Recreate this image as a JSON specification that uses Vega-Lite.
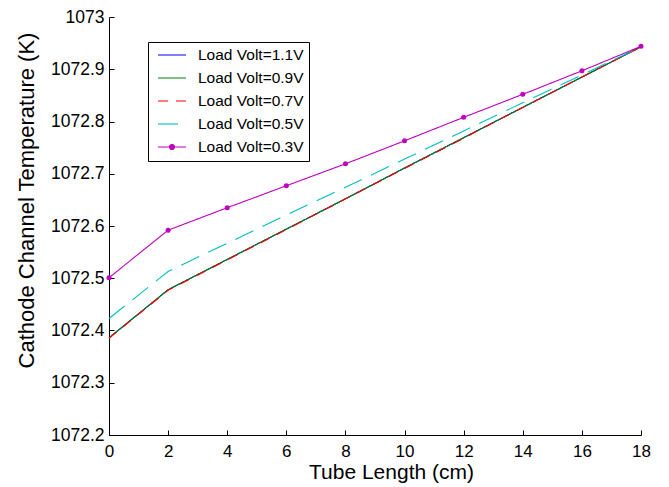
{
  "$schema": "https://vega.github.io/schema/vega-lite/v6.json",
  "width": 532,
  "height": 418,
  "autosize": {"type": "none"},
  "padding": {"left": 109, "top": 17, "right": 28, "bottom": 52},
  "background": "white",
  "config": {
    "view": {"stroke": null},
    "font": "Liberation Sans",
    "axis": {
      "grid": false,
      "domainColor": "#000000",
      "tickColor": "#000000",
      "labelColor": "#000000",
      "titleColor": "#000000",
      "labelFont": "Liberation Sans",
      "titleFont": "Liberation Sans",
      "labelFontSize": 17,
      "titleFontSize": 21,
      "titleFontWeight": "normal",
      "tickSize": -5,
      "domainWidth": 1,
      "tickWidth": 1
    }
  },
  "data": {
    "values": [
      {"x": 0, "T": 1072.386, "series": "Load Volt=1.1V"},
      {"x": 2, "T": 1072.478, "series": "Load Volt=1.1V"},
      {"x": 4, "T": 1072.536, "series": "Load Volt=1.1V"},
      {"x": 6, "T": 1072.594, "series": "Load Volt=1.1V"},
      {"x": 8, "T": 1072.652, "series": "Load Volt=1.1V"},
      {"x": 10, "T": 1072.711, "series": "Load Volt=1.1V"},
      {"x": 12, "T": 1072.769, "series": "Load Volt=1.1V"},
      {"x": 14, "T": 1072.827, "series": "Load Volt=1.1V"},
      {"x": 16, "T": 1072.885, "series": "Load Volt=1.1V"},
      {"x": 18, "T": 1072.943, "series": "Load Volt=1.1V"},
      {"x": 0, "T": 1072.386, "series": "Load Volt=0.9V"},
      {"x": 2, "T": 1072.478, "series": "Load Volt=0.9V"},
      {"x": 4, "T": 1072.536, "series": "Load Volt=0.9V"},
      {"x": 6, "T": 1072.594, "series": "Load Volt=0.9V"},
      {"x": 8, "T": 1072.652, "series": "Load Volt=0.9V"},
      {"x": 10, "T": 1072.711, "series": "Load Volt=0.9V"},
      {"x": 12, "T": 1072.769, "series": "Load Volt=0.9V"},
      {"x": 14, "T": 1072.827, "series": "Load Volt=0.9V"},
      {"x": 16, "T": 1072.885, "series": "Load Volt=0.9V"},
      {"x": 18, "T": 1072.943, "series": "Load Volt=0.9V"},
      {"x": 0, "T": 1072.385, "series": "Load Volt=0.7V"},
      {"x": 2, "T": 1072.477, "series": "Load Volt=0.7V"},
      {"x": 4, "T": 1072.535, "series": "Load Volt=0.7V"},
      {"x": 6, "T": 1072.593, "series": "Load Volt=0.7V"},
      {"x": 8, "T": 1072.652, "series": "Load Volt=0.7V"},
      {"x": 10, "T": 1072.710, "series": "Load Volt=0.7V"},
      {"x": 12, "T": 1072.768, "series": "Load Volt=0.7V"},
      {"x": 14, "T": 1072.827, "series": "Load Volt=0.7V"},
      {"x": 16, "T": 1072.885, "series": "Load Volt=0.7V"},
      {"x": 18, "T": 1072.943, "series": "Load Volt=0.7V"},
      {"x": 0, "T": 1072.423, "series": "Load Volt=0.5V"},
      {"x": 2, "T": 1072.513, "series": "Load Volt=0.5V"},
      {"x": 4, "T": 1072.567, "series": "Load Volt=0.5V"},
      {"x": 6, "T": 1072.621, "series": "Load Volt=0.5V"},
      {"x": 8, "T": 1072.674, "series": "Load Volt=0.5V"},
      {"x": 10, "T": 1072.728, "series": "Load Volt=0.5V"},
      {"x": 12, "T": 1072.782, "series": "Load Volt=0.5V"},
      {"x": 14, "T": 1072.836, "series": "Load Volt=0.5V"},
      {"x": 16, "T": 1072.889, "series": "Load Volt=0.5V"},
      {"x": 18, "T": 1072.943, "series": "Load Volt=0.5V"},
      {"x": 0, "T": 1072.501, "series": "Load Volt=0.3V"},
      {"x": 2, "T": 1072.592, "series": "Load Volt=0.3V"},
      {"x": 4, "T": 1072.635, "series": "Load Volt=0.3V"},
      {"x": 6, "T": 1072.677, "series": "Load Volt=0.3V"},
      {"x": 8, "T": 1072.719, "series": "Load Volt=0.3V"},
      {"x": 10, "T": 1072.763, "series": "Load Volt=0.3V"},
      {"x": 12, "T": 1072.808, "series": "Load Volt=0.3V"},
      {"x": 14, "T": 1072.852, "series": "Load Volt=0.3V"},
      {"x": 16, "T": 1072.897, "series": "Load Volt=0.3V"},
      {"x": 18, "T": 1072.944, "series": "Load Volt=0.3V"}
    ]
  },
  "layer": [
    {
      "mark": {"type": "line", "strokeWidth": 1.1, "clip": false},
      "encoding": {
        "x": {
          "field": "x", "type": "quantitative",
          "scale": {"domain": [0, 18], "nice": false, "zero": false},
          "axis": {"title": "Tube Length (cm)", "values": [0, 2, 4, 6, 8, 10, 12, 14, 16, 18], "labelPadding": 13, "titlePadding": 2, "titleX": 282, "labelFlush": false}
        },
        "y": {
          "field": "T", "type": "quantitative",
          "scale": {"domain": [1072.2, 1073], "nice": false, "zero": false},
          "axis": {"title": "Cathode Channel Temperature (K)", "values": [1072.2, 1072.3, 1072.4, 1072.5, 1072.6, 1072.7, 1072.8, 1072.9, 1073], "format": "~f", "labelFontSize": 17.5, "labelPadding": 10, "titlePadding": 12, "titleFontSize": 22, "titleY": 183, "labelFlush": false}
        },
        "color": {
          "field": "series", "type": "nominal",
          "scale": {
            "domain": ["Load Volt=1.1V", "Load Volt=0.9V", "Load Volt=0.7V", "Load Volt=0.5V", "Load Volt=0.3V"],
            "range": ["#0000ff", "#008000", "#ff0000", "#00bfbf", "#bf00bf"]
          },
          "legend": {
            "title": null,
            "orient": "none",
            "legendX": 39,
            "legendY": 25,
            "strokeColor": "#000000",
            "fillColor": "#ffffff",
            "padding": 5,
            "cornerRadius": 0,
            "symbolSize": 196,
            "symbolOffset": 11,
            "symbolStrokeWidth": 1.1,
            "labelFont": "Liberation Sans",
            "labelFontSize": 15.5,
            "labelColor": "#000000",
            "labelOffset": 18,
            "rowPadding": 6,
            "encode": {
              "symbols": {
                "update": {
                  "shape": {"signal": "datum.value === 'Load Volt=0.3V' ? 'M-2,0L2,0M-0.36,0A0.36,0.36,0,1,0,0.36,0A0.36,0.36,0,1,0,-0.36,0' : 'M-2,0L2,0'"},
                  "fill": {"scale": "color", "field": "value"}
                }
              }
            }
          }
        },
        "strokeDash": {
          "field": "series", "type": "nominal",
          "scale": {
            "domain": ["Load Volt=1.1V", "Load Volt=0.9V", "Load Volt=0.7V", "Load Volt=0.5V", "Load Volt=0.3V"],
            "range": [[1, 0], [1, 0], [10, 8], [20, 10], [1, 0]]
          },
          "legend": null
        }
      }
    },
    {
      "transform": [{"filter": "datum.series === 'Load Volt=0.3V'"}],
      "mark": {"type": "point", "filled": true, "opacity": 1, "size": 25, "color": "#bf00bf", "clip": false},
      "encoding": {
        "x": {"field": "x", "type": "quantitative"},
        "y": {"field": "T", "type": "quantitative"}
      }
    }
  ]
}
